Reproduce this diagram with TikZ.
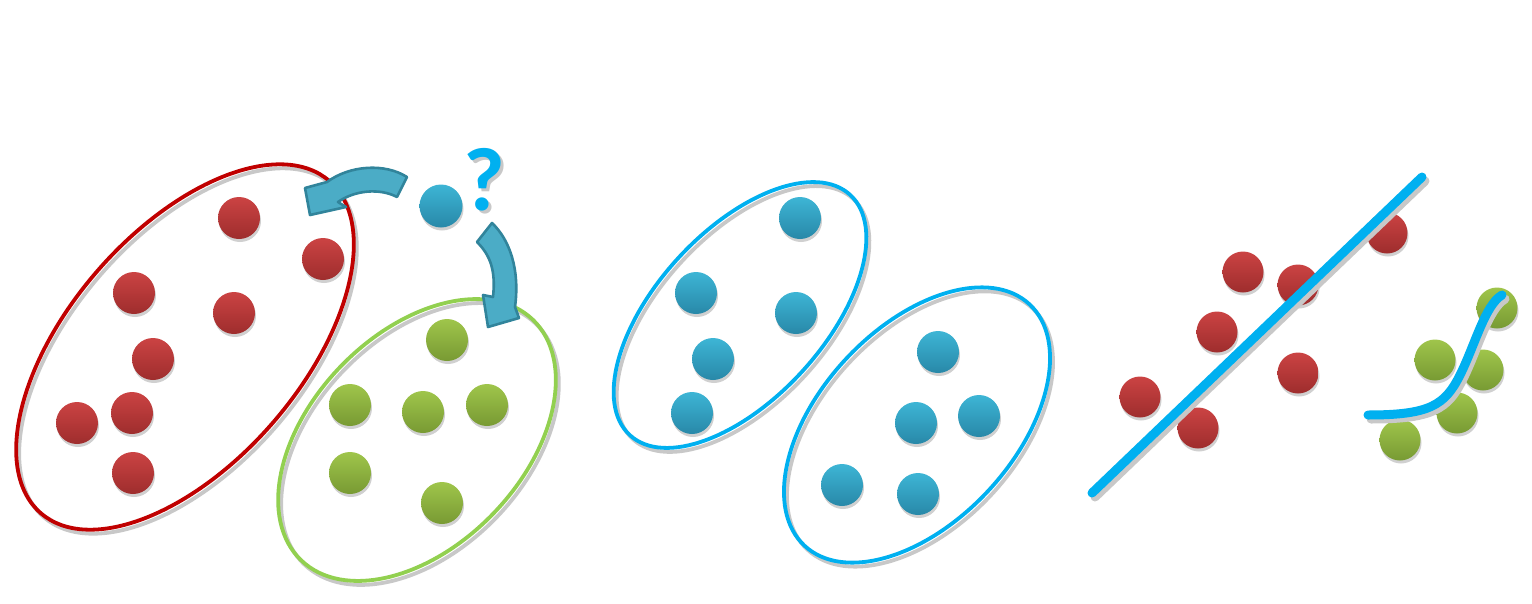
\documentclass[tikz,border=0pt]{standalone}
\usepackage{fontspec}
\newfontfamily\qfont{Carlito}
\usetikzlibrary{calc}
\definecolor{redtop}{HTML}{CB4343}
\definecolor{redbot}{HTML}{9E2D2D}
\definecolor{greentop}{HTML}{9FC54B}
\definecolor{greenbot}{HTML}{789A33}
\definecolor{bluetop}{HTML}{3DB5D5}
\definecolor{bluebot}{HTML}{2888A8}
\definecolor{redring}{HTML}{C00000}
\definecolor{greenring}{HTML}{92D050}
\definecolor{cyan}{HTML}{00B0F0}
\definecolor{shade}{HTML}{C8C8C8}
\definecolor{arrowfill}{HTML}{4BACC6}
\definecolor{arrowline}{HTML}{31849B}
\tikzset{
  ballshadow/.style={fill=shade!85},
  redball/.style={top color=redtop,bottom color=redbot},
  greenball/.style={top color=greentop,bottom color=greenbot},
  blueball/.style={top color=bluetop,bottom color=bluebot},
  ring/.style={line width=3.8pt},
  blockarrow/.style={fill=arrowfill,draw=arrowline,line width=2.6pt,line join=round},
  fitline/.style={draw=cyan,line width=9pt,line cap=round},
  fitshadow/.style={draw=shade,line width=9pt,line cap=round},
}

\begin{document}
\begin{tikzpicture}[x=1pt,y=-1pt]
  \useasboundingbox (0,0) rectangle (1532,603);

  % Cluster rings: centre, half axes, tilt and colour.
  % Each ring is drawn twice: first its grey shadow, then the ring itself.
  \foreach \cx/\cy/\a/\b/\t/\col in {185/347/220/116/49/redring,417/440/167/106/46/greenring,
                                     740/315/163/84/47.5/cyan,917/425/165/97/47/cyan} {
    \draw[ring,draw=shade,shift={(\cx+3,\cy+4)},rotate=\t] (0,0) ellipse [x radius=\a,y radius=\b];
    \draw[ring,draw=\col,shift={(\cx,\cy)},rotate=\t] (0,0) ellipse [x radius=\a,y radius=\b];
  }

  % Left panel: two labelled clusters and a new point to assign.
  \foreach \x/\y in {239/218,323/259,134/293,234/313,153/359,77/423,132/413,133/473} {
    \fill[ballshadow] (\x+1,\y+3) circle (21);
    \shade[redball] (\x,\y) circle (21);
  }
  \foreach \x/\y in {447/340,350/405,423/412,487/405,350/473,442/503} {
    \fill[ballshadow] (\x+1,\y+3) circle (21);
    \shade[greenball] (\x,\y) circle (21);
  }
  \fill[ballshadow] (442,209) circle (21.5);
  \shade[blueball] (441,206) circle (21.5);
  \node[text=shade,font=\qfont\bfseries\fontsize{90}{90}\selectfont,inner sep=0pt] (qshadow) at (487,183) {?};
  \node[text=cyan,font=\qfont\bfseries\fontsize{90}{90}\selectfont,inner sep=0pt] (qmark) at (484,180) {?};

  % Curved block arrows: the point may go to either cluster.
  \draw[blockarrow] (407,177) .. controls (385,163) and (350,165) .. (327,182)
    -- (305,188) -- (310,215) -- (346,207) -- (338,202)
    .. controls (355,190) and (380,188) .. (397,197) -- cycle;
  \draw[blockarrow] (492,223) .. controls (510,240) and (520,270) .. (515,307)
    -- (519,318) -- (488,327) -- (483,295) -- (493,297)
    .. controls (496,270) and (490,255) .. (477,242) -- cycle;

  % Middle panel: unlabelled points grouped into two clusters.
  \foreach \x/\y in {800/218,696/293,796/313,713/359,692/413,938/352,916/423,979/416,842/485,918/494} {
    \fill[ballshadow] (\x+1,\y+3) circle (21);
    \shade[blueball] (\x,\y) circle (21);
  }

  % Right panel: a straight line through the points and a curve along the others.
  \foreach \x/\y in {1243/272,1298/285,1217/332,1298/373,1140/397,1198/428,1387/233} {
    \fill[ballshadow] (\x+1,\y+3) circle (20.5);
    \shade[redball] (\x,\y) circle (20.5);
  }
  \foreach \x/\y in {1497/308,1435/360,1483/370,1457/413,1400/440} {
    \fill[ballshadow] (\x+1,\y+3) circle (20.5);
    \shade[greenball] (\x,\y) circle (20.5);
  }
  \draw[fitshadow] (1095,497) -- (1425,181);
  \draw[fitline] (1092,493) -- (1422,177);
  \draw[fitshadow] (1371,419) .. controls (1433,419) and (1448,409) .. (1463,379)
    .. controls (1478,349) and (1488,309) .. (1505,299);
  \draw[fitline] (1368,415) .. controls (1430,415) and (1445,405) .. (1460,375)
    .. controls (1475,345) and (1485,305) .. (1502,295);
\end{tikzpicture}
\end{document}
